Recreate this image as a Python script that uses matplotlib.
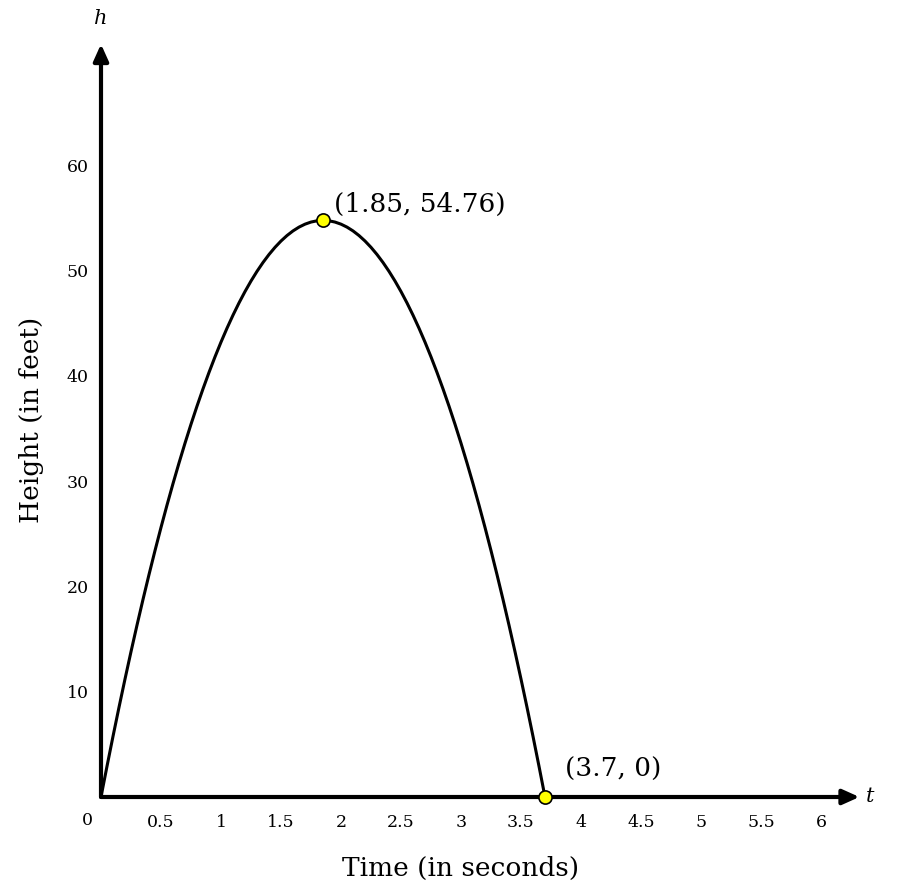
import matplotlib
matplotlib.use("Agg")
import matplotlib.pyplot as plt

# height of the ball (seconds, feet)
t_vals = [0.0, 0.05, 0.1, 0.15, 0.2, 0.25, 0.3, 0.35, 0.4, 0.45, 0.5, 0.55, 0.6,
          0.65, 0.7, 0.75, 0.8, 0.85, 0.9, 0.95, 1.0, 1.05, 1.1, 1.15, 1.2, 1.25,
          1.3, 1.35, 1.4, 1.45, 1.5, 1.55, 1.6, 1.65, 1.7, 1.75, 1.8, 1.85, 1.9,
          1.95, 2.0, 2.05, 2.1, 2.15, 2.2, 2.25, 2.3, 2.35, 2.4, 2.45, 2.5, 2.55,
          2.6, 2.65, 2.7, 2.75, 2.8, 2.85, 2.9, 2.95, 3.0, 3.05, 3.1, 3.15, 3.2,
          3.25, 3.3, 3.35, 3.4, 3.45, 3.5, 3.55, 3.6, 3.65, 3.7]
h_vals = [0.0, 2.92, 5.76, 8.52, 11.2, 13.8, 16.32, 18.76, 21.12, 23.4, 25.6,
          27.72, 29.76, 31.72, 33.6, 35.4, 37.12, 38.76, 40.32, 41.8, 43.2, 44.52,
          45.76, 46.92, 48.0, 49.0, 49.92, 50.76, 51.52, 52.2, 52.8, 53.32, 53.76,
          54.12, 54.4, 54.6, 54.72, 54.76, 54.72, 54.6, 54.4, 54.12, 53.76, 53.32,
          52.8, 52.2, 51.52, 50.76, 49.92, 49.0, 48.0, 46.92, 45.76, 44.52, 43.2,
          41.8, 40.32, 38.76, 37.12, 35.4, 33.6, 31.72, 29.76, 27.72, 25.6, 23.4,
          21.12, 18.76, 16.32, 13.8, 11.2, 8.52, 5.76, 2.92, 0.0]

key_t = [1.85, 3.7]
key_h = [54.76, 0.0]
key_labels = ["(1.85, 54.76)", "(3.7, 0)"]

x_ticks = [0.5, 1, 1.5, 2, 2.5, 3, 3.5, 4, 4.5, 5, 5.5, 6]
x_tick_labels = ["0.5", "1", "1.5", "2", "2.5", "3", "3.5", "4", "4.5", "5", "5.5", "6"]
y_ticks = [10, 20, 30, 40, 50, 60]
y_tick_labels = ["10", "20", "30", "40", "50", "60"]

plt.rcParams["font.family"] = ["DejaVu Serif"]

W, H = 904, 892
fig = plt.figure(figsize=(W / 100, H / 100), dpi=100)
px_t, px_h = 120.0, 10.53   # pixels per unit
x_max, y_max = 6.32, 71.5
ax = fig.add_axes([101 / W, (H - 797) / H, x_max * px_t / W, y_max * px_h / H])
ax.set_xlim(0, x_max)
ax.set_ylim(0, y_max)
for s in ax.spines.values():
    s.set_visible(False)

# axes with arrow heads
arrow = dict(arrowstyle="-|>,head_length=1.0,head_width=0.45", lw=3.0, color="black",
             shrinkA=0, shrinkB=0)
ax.annotate("", xy=(x_max, 0), xytext=(0, 0), arrowprops=arrow, annotation_clip=False)
ax.annotate("", xy=(0, y_max), xytext=(0, 0), arrowprops=arrow, annotation_clip=False)

ax.plot(t_vals, h_vals, color="black", lw=2.2, solid_capstyle="round", zorder=3)
ax.scatter(key_t, key_h, s=90, facecolor="#ffff00", edgecolor="black", lw=1.2,
           zorder=5, clip_on=False)

ax.set_xticks(x_ticks)
ax.set_xticklabels(x_tick_labels, fontsize=12.5)
ax.set_yticks(y_ticks)
ax.set_yticklabels(y_tick_labels, fontsize=12.5)
ax.tick_params(axis="x", length=0, pad=12)
ax.tick_params(axis="y", length=0, pad=9)
ax.text(-0.11, -1.4, "0", fontsize=12.5, ha="center", va="top")

ax.text(1.85 + 0.09, 54.76 + 1.5, key_labels[0], fontsize=19, ha="left", va="center")
ax.text(3.7 + 0.17, 2.6, key_labels[1], fontsize=19, ha="left", va="center")

ax.text(0, y_max + 1.5, "h", fontsize=15, style="italic", ha="center", va="bottom")
ax.text(x_max + 0.05, 0, "t", fontsize=15, style="italic", ha="left", va="center")

fig.text(461 / W, 1 - 868 / H, "Time (in seconds)", fontsize=19, ha="center", va="center")
fig.text(32 / W, 1 - 420 / H, "Height (in feet)", fontsize=19, ha="center", va="center",
         rotation=90)

fig.savefig("out.png", dpi=100)
